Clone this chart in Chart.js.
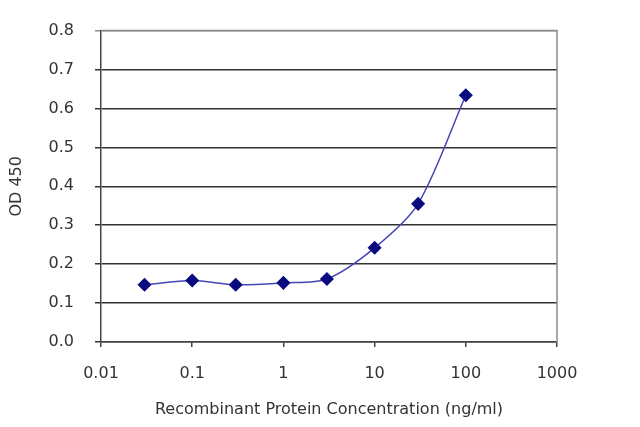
<!DOCTYPE html>
<html>
<head>
<meta charset="utf-8">
<script src="https://cdn.jsdelivr.net/npm/chart.js@4.4.0/dist/chart.umd.min.js"></script>
<style>
html,body{margin:0;padding:0;background:#fff;}
#wrap{width:640px;height:427px;position:relative;}
</style>
</head>
<body>
<div id="wrap"><canvas id="c"></canvas></div>
<script>
const concentrations = [0.03, 0.1, 0.3, 1, 3, 10, 30, 100];
const odValues = [0.147, 0.158, 0.147, 0.152, 0.162, 0.242, 0.355, 0.634];
const xTicks = [0.01, 0.1, 1, 10, 100, 1000];
const xTickLabels = ['0.01', '0.1', '1', '10', '100', '1000'];
const yTitle = 'OD 450';
const xTitle = 'Recombinant Protein Concentration (ng/ml)';

const points = concentrations.map((x, i) => ({x: x, y: odValues[i]}));

const borderPlugin = {
  id: 'plotBorder',
  beforeDatasetsDraw(chart) {
    const a = chart.chartArea, ctx = chart.ctx;
    ctx.save();
    ctx.strokeStyle = '#8a8a8a';
    ctx.lineWidth = 1.5;
    ctx.beginPath();
    ctx.moveTo(a.left, a.top);
    ctx.lineTo(a.right, a.top);
    ctx.lineTo(a.right, a.bottom);
    ctx.stroke();
    ctx.restore();
  }
};

const font = {family: '"DejaVu Sans", "Liberation Sans", sans-serif', size: 16};

new Chart(document.getElementById('c'), {
  type: 'scatter',
  data: {
    datasets: [{
      data: points,
      showLine: true,
      borderColor: '#4646b4',
      borderWidth: 1.5,
      tension: 0.3,
      pointStyle: 'rectRot',
      pointRadius: 6,
      pointHoverRadius: 6,
      pointBackgroundColor: '#0a0a80',
      pointBorderColor: '#0a0a80'
    }]
  },
  options: {
    responsive: true,
    maintainAspectRatio: false,
    animation: false,
    devicePixelRatio: 1,
    layout: {padding: {left: 0, right: 83, top: 28, bottom: 0}},
    plugins: {legend: {display: false}, tooltip: {enabled: false}},
    scales: {
      x: {
        type: 'logarithmic',
        min: 0.01,
        max: 1000,
        afterBuildTicks(scale) { scale.ticks = xTicks.map(v => ({value: v})); },
        afterFit(scale) { scale.height = 85; },
        ticks: {
          color: '#333',
          font: font,
          padding: 17,
          autoSkip: false,
          maxRotation: 0,
          callback: (v) => { const i = xTicks.indexOf(v); return i >= 0 ? xTickLabels[i] : ''; }
        },
        grid: {drawOnChartArea: false, drawTicks: true, tickLength: 5, color: '#444', lineWidth: 1.5},
        border: {display: true, color: '#444', width: 1.5},
        title: {display: true, text: xTitle, color: '#333', font: font, padding: {top: 4, bottom: 8}}
      },
      y: {
        min: 0,
        max: 0.8,
        afterFit(scale) { scale.width = 101; },
        ticks: {
          stepSize: 0.1,
          color: '#333',
          font: font,
          padding: 21,
          callback: (v) => v.toFixed(1)
        },
        grid: {
          drawTicks: true,
          tickLength: 6,
          color: (ctx) => (ctx.tick && Math.abs(ctx.tick.value - 0.8) < 1e-6) ? '#8a8a8a' : '#333',
          lineWidth: 1.5
        },
        border: {display: true, color: '#444', width: 1.5},
        title: {display: true, text: yTitle, color: '#333', font: font, padding: {top: 7, bottom: 4}}
      }
    }
  },
  plugins: [borderPlugin]
});
</script>
</body>
</html>
